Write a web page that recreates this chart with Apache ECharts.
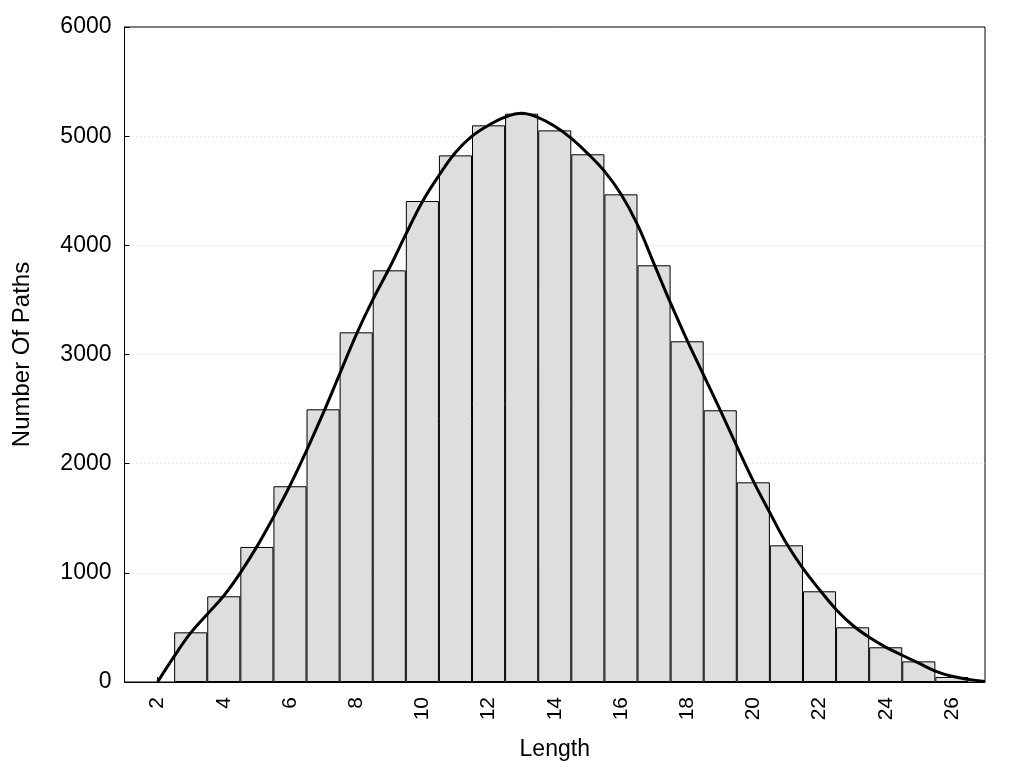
<!DOCTYPE html>
<html>
<head>
<meta charset="utf-8">
<script src="https://cdn.jsdelivr.net/npm/echarts@6/dist/echarts.min.js"></script>
<style>html,body{margin:0;padding:0;background:#fff;}#c{width:1024px;height:768px;}</style>
</head>
<body>
<div id="c"></div>
<script>
// Histogram bins (path length) and counts
const binLengths = [3,4,5,6,7,8,9,10,11,12,13,14,15,16,17,18,19,20,21,22,23,24,25,26];
const binCounts  = [455,785,1237,1793,2498,3203,3771,4406,4824,5099,5206,5053,4834,4467,3817,3121,2489,1829,1252,831,501,318,189,46];
// Smoothed density curve
const curveX = [2,2.5,3,3.5,4,4.5,5,5.5,6,6.5,7,7.5,8,8.5,9,9.5,10,10.5,11,11.5,12,12.5,13,13.5,14,14.5,15,15.5,16,16.5,17,17.5,18,18.5,19,19.5,20,20.5,21,21.5,22,22.5,23,23.5,24,24.5,25,25.5,26,26.5,27];
const curveY = [0,235,450,620,790,1000,1240,1510,1800,2120,2460,2820,3180,3500,3790,4100,4400,4640,4850,5000,5100,5175,5210,5170,5090,4980,4840,4680,4470,4190,3830,3470,3130,2810,2490,2160,1840,1550,1270,1040,845,665,520,410,320,245,172,100,52,24,5];
const xTicks = [2,4,6,8,10,12,14,16,18,20,22,24,26];

const font = "'Liberation Sans', Arial, sans-serif";
const chart = echarts.init(document.getElementById('c'));
chart.setOption({
  animation: false,
  grid: { left: 124.5, right: 39, top: 27, bottom: 86, show: true, borderColor: '#000', borderWidth: 1, backgroundColor: 'transparent' },
  xAxis: {
    type: 'value', min: 1, max: 27,
    name: 'Length', nameLocation: 'middle', nameGap: 56,
    nameTextStyle: { fontFamily: font, fontSize: 23, color: '#000' },
    axisLine: { show: true, lineStyle: { color: '#000', width: 1 } },
    axisTick: { show: true, inside: true, length: 5, customValues: xTicks, lineStyle: { color: '#000' } },
    axisLabel: { customValues: xTicks, rotate: 90, margin: 15, fontFamily: font, fontSize: 21, color: '#000' },
    splitLine: { show: false }
  },
  yAxis: {
    type: 'value', min: 0, max: 6000, interval: 1000,
    name: 'Number Of Paths', nameLocation: 'middle', nameGap: 90,
    nameTextStyle: { fontFamily: font, fontSize: 24, color: '#000' },
    axisLine: { show: true, lineStyle: { color: '#000', width: 1 } },
    axisTick: { show: true, inside: true, length: 5, lineStyle: { color: '#000' } },
    axisLabel: { margin: 13, fontFamily: font, fontSize: 23, color: '#000', formatter: v => String(v) },
    splitLine: { show: true, showMinLine: false, showMaxLine: false, lineStyle: { color: '#cccccc', type: [1, 3], width: 1 } }
  },
  series: [
    {
      type: 'bar',
      data: binLengths.map((x, i) => [x, binCounts[i]]),
      barWidth: 33.1,
      itemStyle: { color: '#dedede', borderColor: '#000', borderWidth: 1 },
      z: 2
    },
    {
      type: 'line',
      data: curveX.map((x, i) => [x, curveY[i]]),
      smooth: 0.4,
      showSymbol: false,
      lineStyle: { color: '#000', width: 3 },
      z: 3
    }
  ]
});
</script>
</body>
</html>
